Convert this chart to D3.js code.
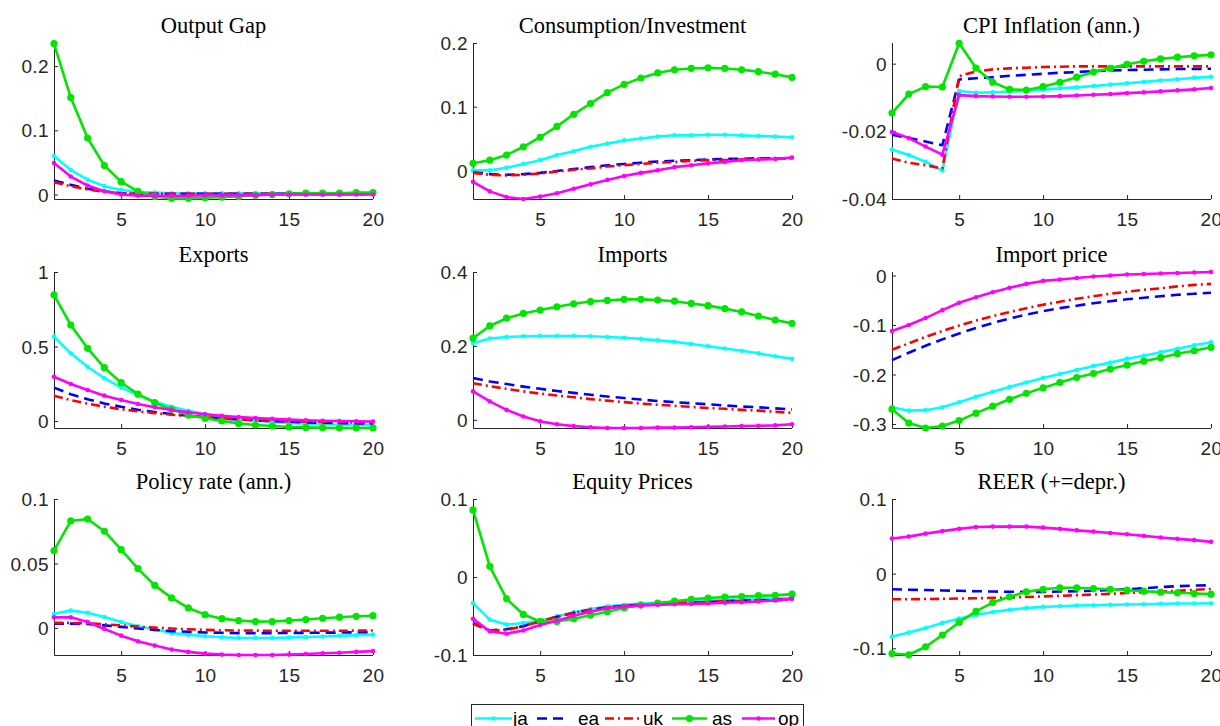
<!DOCTYPE html>
<html>
<head>
<meta charset="utf-8">
<script src="https://cdn.jsdelivr.net/npm/d3@7"></script>
<style>
  body { margin: 0; background: #fff; }
  svg { display: block; }
  .tick-label { font-family: "Liberation Sans", Arial, sans-serif; font-size: 19px; letter-spacing: 0.4px; fill: #262626; }
  .ptitle { font-family: "Liberation Serif", "Times New Roman", serif; font-size: 22.5px; fill: #000; }
  .leg-text { font-family: "Liberation Sans", Arial, sans-serif; font-size: 19px; fill: #000; }
</style>
</head>
<body>
<svg id="chart" width="1220" height="726"></svg>
<script>
// horizon 1..20
var periods = d3.range(1, 21);
var seriesNames = ['ja', 'ea', 'uk', 'as', 'op'];

var titles = ['Output Gap', 'Consumption/Investment', 'CPI Inflation (ann.)',
              'Exports', 'Imports', 'Import price',
              'Policy rate (ann.)', 'Equity Prices', 'REER (+=depr.)'];

var yLimits = [[-0.007, 0.236], [-0.045, 0.2], [-0.04, 0.0061],
               [-0.047, 1], [-0.022, 0.4], [-0.308, 0.007],
               [-0.021, 0.1], [-0.1, 0.1], [-0.109, 0.1]];

var yTicks = [[0, 0.1, 0.2], [0, 0.1, 0.2], [-0.04, -0.02, 0],
              [0, 0.5, 1], [0, 0.2, 0.4], [-0.3, -0.2, -0.1, 0],
              [0, 0.05, 0.1], [-0.1, 0, 0.1], [-0.1, 0, 0.1]];
var xTicks = [5, 10, 15, 20];

// each panel: [ja, ea, uk, as, op]
var outputGap = [
  [0.060,0.038,0.023,0.013,0.007,0.004,0.003,0.002,0.002,0.002,0.002,0.002,0.002,0.002,0.002,0.002,0.002,0.002,0.002,0.002],
  [0.022,0.015,0.009,0.005,0.002,0.001,0.001,0.001,0.001,0.001,0.001,0.001,0.001,0.001,0.001,0.001,0.001,0.001,0.001,0.001],
  [0.019,0.013,0.008,0.004,0.002,0.001,0.001,0.001,0.001,0.001,0.001,0.001,0.001,0.001,0.001,0.001,0.001,0.001,0.001,0.001],
  [0.235,0.151,0.088,0.045,0.020,0.005,-0.003,-0.006,-0.006,-0.005,-0.004,-0.003,-0.001,0.000,0.001,0.002,0.002,0.002,0.003,0.003],
  [0.049,0.028,0.014,0.005,0.000,-0.002,-0.002,-0.002,-0.002,-0.001,-0.001,-0.001,-0.001,0,0,0,0,0,0,0]
];
var consumption = [
  [0.000,0.000,0.004,0.010,0.016,0.024,0.030,0.037,0.042,0.047,0.050,0.053,0.055,0.055,0.056,0.056,0.055,0.054,0.053,0.052],
  [-0.003,-0.006,-0.007,-0.006,-0.004,-0.001,0.002,0.005,0.008,0.010,0.012,0.014,0.015,0.016,0.017,0.018,0.018,0.019,0.019,0.019],
  [-0.004,-0.007,-0.008,-0.007,-0.005,-0.002,0.001,0.003,0.006,0.008,0.010,0.012,0.013,0.015,0.016,0.016,0.017,0.018,0.018,0.019],
  [0.011,0.016,0.024,0.037,0.052,0.069,0.088,0.105,0.122,0.135,0.145,0.153,0.158,0.160,0.161,0.160,0.158,0.155,0.151,0.146],
  [-0.018,-0.033,-0.042,-0.045,-0.041,-0.036,-0.029,-0.022,-0.015,-0.009,-0.004,0.000,0.005,0.008,0.011,0.013,0.016,0.017,0.018,0.020]
];
var cpiInflation = [
  [-0.0254,-0.027,-0.029,-0.0316,-0.0081,-0.0086,-0.0085,-0.0083,-0.008,-0.0077,-0.0073,-0.007,-0.0066,-0.0062,-0.0058,-0.0054,-0.005,-0.0046,-0.0042,-0.0039],
  [-0.021,-0.022,-0.023,-0.0241,-0.0047,-0.0043,-0.004,-0.0036,-0.0033,-0.003,-0.0027,-0.0025,-0.0022,-0.002,-0.0019,-0.0018,-0.0017,-0.0016,-0.0016,-0.0015],
  [-0.028,-0.0293,-0.030,-0.031,-0.0037,-0.0023,-0.0017,-0.0014,-0.0012,-0.001,-0.0009,-0.0008,-0.0008,-0.0008,-0.0008,-0.0008,-0.0008,-0.0008,-0.0008,-0.0008],
  [-0.0146,-0.009,-0.0068,-0.0069,0.006,-0.0013,-0.0055,-0.0076,-0.0078,-0.0068,-0.0055,-0.004,-0.0025,-0.0014,-0.0002,0.0007,0.0014,0.0019,0.0023,0.0026],
  [-0.0202,-0.022,-0.0245,-0.0269,-0.0093,-0.0096,-0.0097,-0.0098,-0.0098,-0.0097,-0.0096,-0.0094,-0.0092,-0.009,-0.0087,-0.0085,-0.0082,-0.0079,-0.0076,-0.0072]
];
var exportsData = [
  [0.566,0.454,0.364,0.287,0.224,0.174,0.130,0.096,0.069,0.047,0.029,0.014,0.003,-0.006,-0.013,-0.018,-0.022,-0.025,-0.027,-0.029],
  [0.224,0.180,0.146,0.118,0.095,0.076,0.060,0.047,0.036,0.026,0.017,0.010,0.004,-0.001,-0.005,-0.009,-0.012,-0.014,-0.016,-0.018],
  [0.170,0.140,0.116,0.096,0.079,0.065,0.053,0.042,0.033,0.025,0.018,0.012,0.007,0.003,-0.001,-0.004,-0.006,-0.008,-0.010,-0.012],
  [0.846,0.644,0.488,0.358,0.257,0.180,0.123,0.078,0.040,0.018,0.000,-0.016,-0.027,-0.034,-0.040,-0.043,-0.045,-0.047,-0.047,-0.047],
  [0.297,0.248,0.208,0.170,0.141,0.114,0.092,0.074,0.058,0.045,0.035,0.027,0.020,0.014,0.009,0.005,0.002,0.000,-0.002,-0.004]
];
var importsData = [
  [0.207,0.220,0.224,0.226,0.227,0.227,0.227,0.226,0.224,0.222,0.219,0.215,0.211,0.205,0.199,0.193,0.187,0.180,0.172,0.165],
  [0.113,0.104,0.097,0.090,0.084,0.078,0.073,0.068,0.063,0.059,0.055,0.051,0.048,0.045,0.042,0.039,0.036,0.034,0.031,0.028],
  [0.099,0.091,0.084,0.077,0.071,0.066,0.061,0.056,0.052,0.048,0.044,0.041,0.038,0.035,0.032,0.030,0.027,0.025,0.022,0.019],
  [0.221,0.254,0.275,0.288,0.297,0.306,0.314,0.320,0.323,0.326,0.326,0.324,0.321,0.315,0.309,0.301,0.292,0.281,0.270,0.261],
  [0.077,0.050,0.027,0.009,-0.004,-0.012,-0.017,-0.020,-0.022,-0.022,-0.022,-0.021,-0.021,-0.020,-0.019,-0.018,-0.017,-0.016,-0.015,-0.012]
];
var importPrice = [
  [-0.266,-0.273,-0.272,-0.266,-0.256,-0.245,-0.235,-0.225,-0.216,-0.207,-0.199,-0.191,-0.183,-0.176,-0.168,-0.162,-0.155,-0.148,-0.141,-0.135],
  [-0.171,-0.156,-0.142,-0.129,-0.117,-0.106,-0.096,-0.087,-0.079,-0.072,-0.066,-0.061,-0.056,-0.052,-0.048,-0.045,-0.042,-0.039,-0.037,-0.035],
  [-0.150,-0.137,-0.124,-0.112,-0.101,-0.091,-0.082,-0.074,-0.066,-0.059,-0.053,-0.047,-0.042,-0.037,-0.033,-0.029,-0.026,-0.022,-0.019,-0.017],
  [-0.270,-0.298,-0.308,-0.304,-0.293,-0.278,-0.264,-0.250,-0.238,-0.227,-0.216,-0.206,-0.198,-0.189,-0.181,-0.173,-0.166,-0.158,-0.152,-0.145],
  [-0.112,-0.100,-0.086,-0.070,-0.055,-0.044,-0.034,-0.025,-0.017,-0.011,-0.008,-0.005,-0.002,0.000,0.002,0.003,0.004,0.005,0.006,0.007]
];
var policyRate = [
  [0.0110,0.0134,0.0118,0.0085,0.0046,0.0013,-0.0010,-0.0039,-0.0052,-0.0065,-0.0072,-0.0078,-0.0078,-0.0078,-0.0075,-0.0070,-0.0067,-0.0062,-0.0057,-0.0052],
  [0.0033,0.0033,0.0030,0.0020,0.0008,-0.0005,-0.0015,-0.0025,-0.0030,-0.0035,-0.0038,-0.0040,-0.0040,-0.0040,-0.0039,-0.0038,-0.0037,-0.0036,-0.0034,-0.0032],
  [0.0039,0.0039,0.0035,0.0028,0.0020,0.0010,0.0002,-0.0005,-0.0010,-0.0015,-0.0018,-0.0020,-0.0021,-0.0022,-0.0022,-0.0022,-0.0022,-0.0022,-0.0021,-0.0020],
  [0.0600,0.0830,0.0845,0.0750,0.0607,0.0460,0.0330,0.0233,0.0155,0.0103,0.0072,0.0057,0.0049,0.0050,0.0057,0.0065,0.0075,0.0083,0.0090,0.0095],
  [0.0082,0.0082,0.0046,-0.0008,-0.0060,-0.0104,-0.0137,-0.0168,-0.0186,-0.0199,-0.0207,-0.0210,-0.0210,-0.0210,-0.0207,-0.0202,-0.0197,-0.0192,-0.0186,-0.0180]
];
var equityPrices = [
  [-0.0334,-0.0547,-0.0610,-0.0590,-0.0560,-0.0505,-0.0453,-0.0410,-0.0377,-0.0355,-0.0340,-0.0330,-0.0320,-0.0310,-0.0300,-0.0290,-0.0290,-0.0280,-0.0280,-0.0270],
  [-0.0590,-0.0685,-0.0670,-0.0630,-0.0570,-0.0510,-0.0460,-0.0420,-0.0390,-0.0370,-0.0355,-0.0345,-0.0335,-0.0330,-0.0320,-0.0310,-0.0300,-0.0300,-0.0290,-0.0280],
  [-0.0600,-0.0690,-0.0680,-0.0630,-0.0570,-0.0510,-0.0460,-0.0420,-0.0390,-0.0370,-0.0355,-0.0350,-0.0340,-0.0330,-0.0320,-0.0310,-0.0310,-0.0300,-0.0300,-0.0290],
  [0.0860,0.0137,-0.0280,-0.0480,-0.0570,-0.0570,-0.0535,-0.0490,-0.0445,-0.0397,-0.0360,-0.0334,-0.0310,-0.0287,-0.0270,-0.0257,-0.0250,-0.0240,-0.0235,-0.0220],
  [-0.0535,-0.0697,-0.0727,-0.0685,-0.0616,-0.0560,-0.0497,-0.0445,-0.0400,-0.0380,-0.0365,-0.0357,-0.0350,-0.0345,-0.0340,-0.0330,-0.0323,-0.0315,-0.0300,-0.0280]
];
var reer = [
  [-0.0845,-0.0790,-0.0730,-0.0660,-0.0600,-0.0554,-0.0515,-0.0485,-0.0462,-0.0445,-0.0436,-0.0427,-0.0423,-0.0418,-0.0414,-0.0410,-0.0405,-0.0400,-0.0400,-0.0396],
  [-0.0210,-0.0215,-0.0220,-0.0225,-0.0230,-0.0235,-0.0240,-0.0243,-0.0245,-0.0245,-0.0240,-0.0235,-0.0230,-0.0220,-0.0210,-0.0195,-0.0180,-0.0168,-0.0160,-0.0155],
  [-0.0343,-0.0343,-0.0340,-0.0337,-0.0333,-0.0330,-0.0325,-0.0320,-0.0313,-0.0305,-0.0297,-0.0288,-0.0280,-0.0270,-0.0260,-0.0250,-0.0240,-0.0230,-0.0218,-0.0205],
  [-0.1070,-0.1087,-0.0980,-0.0823,-0.0650,-0.0506,-0.0388,-0.0310,-0.0244,-0.0209,-0.0190,-0.0190,-0.0200,-0.0209,-0.0222,-0.0235,-0.0248,-0.0257,-0.0266,-0.0275],
  [0.0470,0.0496,0.0536,0.0570,0.0600,0.0625,0.0630,0.0630,0.0630,0.0616,0.0600,0.0580,0.0563,0.0545,0.0528,0.0506,0.0484,0.0466,0.0449,0.0426]
];

var panels = [outputGap, consumption, cpiInflation, exportsData, importsData, importPrice, policyRate, equityPrices, reer];

// line styles for ja, ea, uk, as, op
var styles = [
  { color: '#00ffff', dash: null,       marker: 2.3 },
  { color: '#0000ff', dash: '10,6',     marker: 0 },
  { color: '#ff0000', dash: '9,4,2,4',  marker: 0 },
  { color: '#00e600', dash: null,       marker: 3.6 },
  { color: '#ff00ff', dash: null,       marker: 2.3 }
];

var colLeft = [54, 473, 892];
var rowTop = [43, 272, 499];
var plotW = 319, plotH = 156;
var axisColor = '#262626';

var svg = d3.select('#chart');

function fmt(v) { return String(+v.toFixed(6)); }

panels.forEach(function (data, p) {
    var col = p % 3, row = Math.floor(p / 3);
    var g = svg.append('g')
        .attr('transform', 'translate(' + colLeft[col] + ',' + rowTop[row] + ')');

    var x = d3.scaleLinear().domain([1, 20]).range([0, plotW]);
    var y = d3.scaleLinear().domain(yLimits[p]).range([plotH, 0]);

    // x axis (ticks inward)
    var xa = g.append('g').attr('transform', 'translate(0,' + plotH + ')')
        .call(d3.axisBottom(x).tickValues(xTicks).tickSizeInner(-4).tickSizeOuter(0).tickPadding(0).tickFormat(d3.format('d')));
    xa.select('.domain').attr('stroke', axisColor).attr('d', 'M0.5,0.5H' + plotW);
    xa.selectAll('.tick line').attr('stroke', axisColor);
    xa.selectAll('.tick text').attr('class', 'tick-label').attr('y', 27).attr('dy', null);

    var ya = g.append('g')
        .call(d3.axisLeft(y).tickValues(yTicks[p]).tickSizeInner(-4).tickSizeOuter(0).tickPadding(0).tickFormat(fmt));
    ya.select('.domain').attr('stroke', axisColor).attr('d', 'M0.5,0V' + (plotH + 0.5));
    ya.selectAll('.tick line').attr('stroke', axisColor);
    ya.selectAll('.tick text').attr('class', 'tick-label').attr('x', -5).attr('dy', '0.35em');

    g.append('text').attr('class', 'ptitle')
        .attr('x', plotW / 2).attr('y', -10)
        .attr('text-anchor', 'middle')
        .text(titles[p]);

    var line = d3.line().x(function (d, i) { return x(periods[i]); }).y(function (d) { return y(d); });

    data.forEach(function (vals, s) {
        var st = styles[s];
        g.append('path')
            .attr('d', line(vals))
            .attr('fill', 'none')
            .attr('stroke', st.color)
            .attr('stroke-width', 2.6)
            .attr('stroke-linejoin', 'round')
            .attr('stroke-dasharray', st.dash);
        if (st.marker > 0) {
            g.append('g').selectAll('circle').data(vals).enter().append('circle')
                .attr('cx', function (d, i) { return x(periods[i]); })
                .attr('cy', function (d) { return y(d); })
                .attr('r', st.marker)
                .attr('fill', st.color);
        }
    });
});

// legend
var leg = svg.append('g').attr('transform', 'translate(471,704.5)');
leg.append('rect').attr('x', 0.5).attr('y', 0).attr('width', 332).attr('height', 30)
    .attr('fill', '#fff').attr('stroke', axisColor).attr('stroke-width', 1);
var legLine = [[4, 41], [66, 94], [134, 169], [201, 236], [271, 304]];
var legText = [42, 107, 172, 241, 307];
seriesNames.forEach(function (name, s) {
    var st = styles[s];
    var ly = 14;
    leg.append('line').attr('x1', legLine[s][0]).attr('x2', legLine[s][1])
        .attr('y1', ly).attr('y2', ly)
        .attr('stroke', st.color).attr('stroke-width', 2.6)
        .attr('stroke-dasharray', st.dash);
    if (st.marker > 0) {
        leg.append('circle').attr('cx', (legLine[s][0] + legLine[s][1]) / 2).attr('cy', ly)
            .attr('r', st.marker).attr('fill', st.color);
    }
    leg.append('text').attr('class', 'leg-text')
        .attr('x', legText[s]).attr('y', ly).attr('dy', '0.35em')
        .text(name);
});
</script>
</body>
</html>
